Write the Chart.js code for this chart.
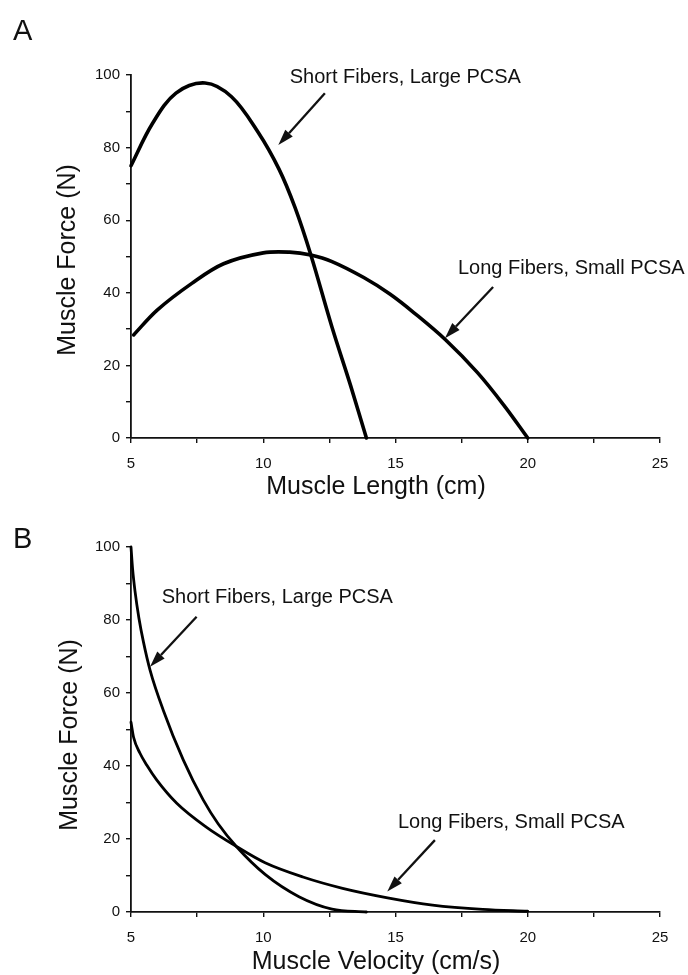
<!DOCTYPE html>
<html><head><meta charset="utf-8">
<script src="https://cdn.jsdelivr.net/npm/chart.js@4.4.1/dist/chart.umd.min.js"></script>
<style>
html,body{margin:0;padding:0;background:#fff;}
#wrap{position:relative;width:688px;height:975px;background:#fff;}
canvas{position:absolute;left:0;}
</style></head><body>
<div id="wrap">
<canvas id="cA" width="688" height="505" style="top:0px"></canvas>
<canvas id="cB" width="688" height="470" style="top:505px"></canvas>
</div>
<script>
// ---- Data ----
const panelLabels = ['A', 'B'];
const seriesNames = ['Short Fibers, Large PCSA', 'Long Fibers, Small PCSA'];
const xTitles = ['Muscle Length (cm)', 'Muscle Velocity (cm/s)'];
const yTitle = 'Muscle Force (N)';

const xTickMin = 5, xTickMax = 25, xTickStep = 2.5, xLabelEvery = 5;
const yTickMin = 0, yTickMax = 100, yTickStep = 10, yLabelEvery = 20;

// Panel A: force-length
const lengthShortX = [5, 5.8, 6.7, 7.8, 8.8, 9.8, 10.6, 11.2, 11.8, 12.6, 13.3, 13.9];
const lengthShortY = [75, 86.5, 95, 97.8, 94, 84.3, 74, 63.5, 50.4, 30.5, 14.5, 0];
const lengthLongX = [5.1, 6, 7.3, 8.5, 10, 11, 11.8, 12.6, 13.8, 14.8, 15.7, 16.9, 18.1, 19.1, 20];
const lengthLongY = [28.4, 35.3, 42.6, 48, 51, 51.2, 50.4, 48.6, 44.2, 39.6, 34.5, 27, 18, 9, 0];

// Panel B: force-velocity
const velocityShortX = [5, 5.06, 5.15, 5.3, 5.47, 5.72, 6.22, 6.98, 7.73, 8.3, 9.0, 10.07, 11.35, 12.6, 13.9];
const velocityShortY = [100, 94, 88, 80.5, 74, 66.3, 55.3, 41.6, 30.7, 24.1, 17.8, 10.3, 4.2, 0.8, 0];
const velocityLongX = [5, 5.1, 5.34, 5.6, 5.97, 6.73, 7.86, 9.0, 10.07, 11.5, 13.0, 14.7, 16.4, 18.3, 20];
const velocityLongY = [52, 47.8, 43.5, 40.2, 36.2, 29.8, 23.2, 17.9, 13.5, 9.6, 6.5, 3.9, 1.9, 0.7, 0.2];

// Annotation anchors in data units: [textX, textY, arrowTailX, arrowTailY, arrowTipX, arrowTipY]
const noteAShort = [11.0, 99.2, 12.33, 95, 10.57, 80.7];
const noteALong = [17.36, 46.8, 18.69, 41.6, 16.87, 27.5];
const noteBShort = [6.16, 86.3, 7.48, 80.9, 5.72, 67.2];
const noteBLong = [15.09, 24.4, 16.49, 19.7, 14.69, 5.6];

// ---- Rendering ----
const FAM = '"Liberation Sans", Arial, Helvetica, sans-serif';
const INK = '#111';
function pts(xs, ys) { return xs.map((x, i) => ({ x: x, y: ys[i] })); }

const annotPlugin = {
  id: 'annot',
  afterDatasetsDraw(chart, args, opts) {
    const ctx = chart.ctx, sx = chart.scales.x, sy = chart.scales.y;
    ctx.save();
    ctx.fillStyle = INK; ctx.strokeStyle = INK;
    (opts.notes || []).forEach(n => {
      const a = n.at;
      ctx.font = '20px ' + FAM;
      ctx.textAlign = 'left'; ctx.textBaseline = 'middle';
      ctx.fillText(n.text, sx.getPixelForValue(a[0]), sy.getPixelForValue(a[1]));
      const x0 = sx.getPixelForValue(a[2]), y0 = sy.getPixelForValue(a[3]);
      const x1 = sx.getPixelForValue(a[4]), y1 = sy.getPixelForValue(a[5]);
      const ang = Math.atan2(y1 - y0, x1 - x0);
      const L = 16, W = 5;
      const bx = x1 - L * Math.cos(ang), by = y1 - L * Math.sin(ang);
      ctx.lineWidth = 2.3;
      ctx.beginPath(); ctx.moveTo(x0, y0); ctx.lineTo(bx, by); ctx.stroke();
      ctx.beginPath(); ctx.moveTo(x1, y1);
      ctx.lineTo(bx + W * Math.sin(ang), by - W * Math.cos(ang));
      ctx.lineTo(bx - W * Math.sin(ang), by + W * Math.cos(ang));
      ctx.closePath(); ctx.fill();
    });
    (opts.labels || []).forEach(l => {
      ctx.save();
      ctx.font = l.font; ctx.textAlign = l.align || 'center'; ctx.textBaseline = 'middle';
      ctx.translate(l.x, l.y); if (l.rot) ctx.rotate(l.rot);
      ctx.fillText(l.text, 0, 0);
      ctx.restore();
    });
    ctx.restore();
  }
};

function makeChart(id, cfg) {
  const ds = (d, w) => ({ data: d, borderColor: '#000', borderWidth: w, pointRadius: 0,
    cubicInterpolationMode: cfg.mode, tension: 0.35, fill: false, clip: 6,
    borderJoinStyle: 'round', borderCapStyle: 'round' });
  return new Chart(document.getElementById(id), {
    type: 'line',
    data: { datasets: [ds(cfg.short, cfg.lw), ds(cfg.long, cfg.lw)] },
    options: {
      responsive: false, animation: false, devicePixelRatio: 1,
      layout: { padding: { left: 0, top: cfg.top, right: 28, bottom: 0 } },
      plugins: { legend: { display: false }, tooltip: { enabled: false },
        annot: { notes: cfg.notes, labels: cfg.labels } },
      scales: {
        x: { type: 'linear', min: xTickMin, max: xTickMax,
          ticks: { stepSize: xTickStep, autoSkip: false, maxRotation: 0, padding: 12, color: INK,
            font: { size: 15, family: FAM },
            callback: v => (v % xLabelEvery === 0 ? String(v) : '') },
          grid: { drawOnChartArea: false, drawTicks: true, tickLength: 5, color: INK, lineWidth: 1.4 },
          border: { display: true, color: INK, width: 1.8 },
          afterFit: s => { s.height = cfg.xh; } },
        y: { type: 'linear', min: yTickMin, max: yTickMax,
          ticks: { stepSize: yTickStep, autoSkip: false, padding: 6, color: INK,
            font: { size: 15, family: FAM },
            callback: v => (v % yLabelEvery === 0 ? String(v) : '') },
          grid: { drawOnChartArea: false, drawTicks: true, tickLength: 5, color: INK, lineWidth: 1.4 },
          border: { display: true, color: INK, width: 1.8 },
          afterFit: s => { s.width = 131; } }
      }
    },
    plugins: [annotPlugin]
  });
}

makeChart('cA', {
  short: pts(lengthShortX, lengthShortY), long: pts(lengthLongX, lengthLongY), lw: 3.6,
  mode: 'default', top: 75, xh: 67,
  notes: [ { text: seriesNames[0], at: noteAShort }, { text: seriesNames[1], at: noteALong } ],
  labels: [
    { text: panelLabels[0], x: 13, y: 32, align: 'left', font: '29px ' + FAM },
    { text: xTitles[0], x: 376, y: 487, font: '25px ' + FAM },
    { text: yTitle, x: 68, y: 260, rot: -Math.PI / 2, font: '25px ' + FAM }
  ]
});

makeChart('cB', {
  short: pts(velocityShortX, velocityShortY), long: pts(velocityLongX, velocityLongY), lw: 2.8,
  mode: 'monotone', top: 42, xh: 63,
  notes: [ { text: seriesNames[0], at: noteBShort }, { text: seriesNames[1], at: noteBLong } ],
  labels: [
    { text: panelLabels[1], x: 13, y: 35, align: 'left', font: '29px ' + FAM },
    { text: xTitles[1], x: 376, y: 457, font: '25px ' + FAM },
    { text: yTitle, x: 70, y: 230, rot: -Math.PI / 2, font: '25px ' + FAM }
  ]
});
</script>
</body></html>
